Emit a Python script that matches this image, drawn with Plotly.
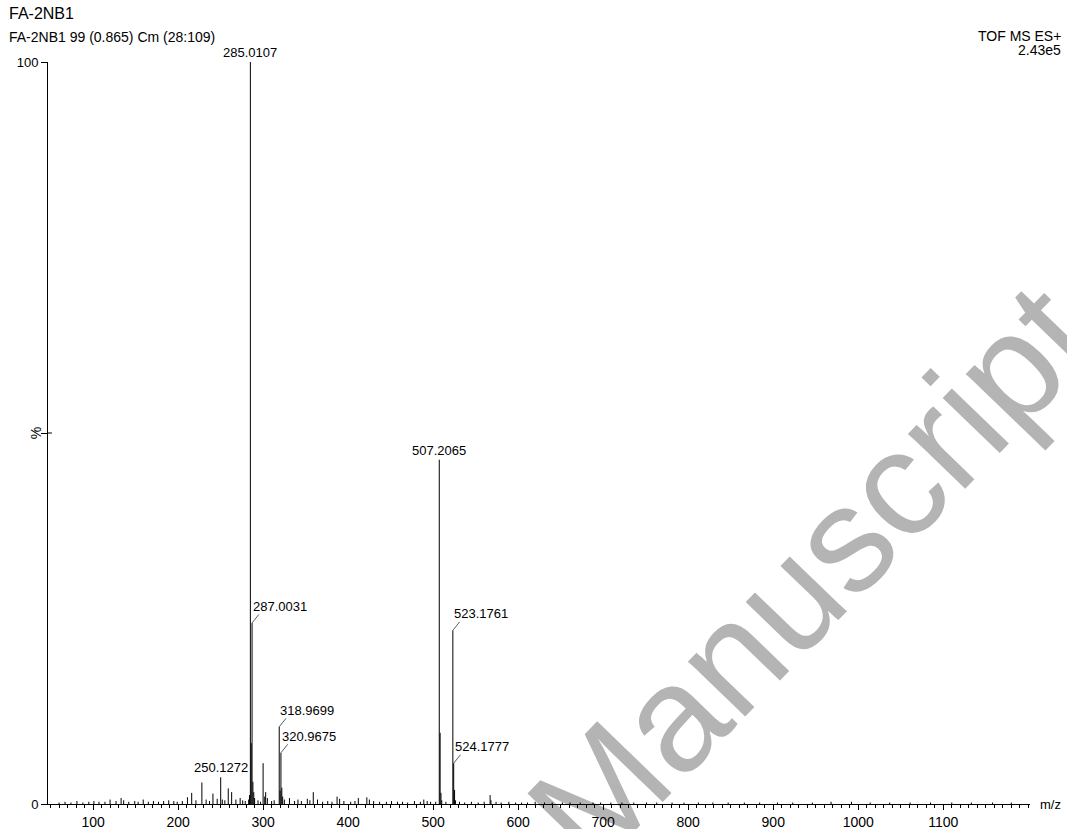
import plotly.graph_objects as go

# Labelled peaks (m/z, relative intensity %)
label_mz = [250.1272, 285.0107, 287.0031, 318.9699, 320.9675, 507.2065, 523.1761, 524.1777]
label_int = [3.6, 100.0, 24.4, 10.4, 6.9, 46.4, 23.4, 5.5]
# True where the label sits beside the peak with a short leader line
label_side = [False, False, True, True, True, False, True, True]

# Unlabelled peaks (isotopes, fragments, background)
other_mz = [283.0, 284.0, 286.0, 288.0, 289.0, 290.0,
            300.0, 301.9, 303.0, 305.0,
            319.97, 322.0, 323.0, 325.0,
            508.2, 509.2, 510.1, 525.2, 526.2, 567.0, 568.0,
            216, 228, 241, 246, 259, 263, 268, 273,
            331, 352, 359, 364, 387, 390, 412, 422, 425,
            60, 67, 74, 81, 88, 95, 101, 107, 114, 120, 127, 133, 136, 142, 149, 153,
            159, 165, 171, 177, 183, 189, 195, 199, 205, 211, 221, 233, 237, 252, 255,
            276, 279, 294, 297, 310, 313, 337, 341, 345, 355, 370, 376, 381, 395, 403,
            408, 430, 437, 445, 451, 458, 464, 470, 478, 485, 489, 493, 497, 503, 515,
            531, 537, 545, 553, 560, 574, 580, 589, 597, 604, 611, 620, 631, 640, 652,
            661, 673, 688, 697, 709, 722, 736, 751, 763, 781, 795, 812, 829, 847, 866,
            884, 905, 923, 946, 968, 992, 1014, 1037, 1061, 1085, 1110, 1133, 1158, 1180]
other_int = [0.6, 1.2, 8.2, 3.0, 1.6, 0.8,
             5.5, 1.0, 1.6, 0.8,
             1.8, 2.2, 1.0, 0.6,
             9.6, 1.5, 0.5, 1.9, 0.5, 1.2, 0.5,
             1.5, 2.9, 1.4, 0.7, 2.1, 1.6, 0.6, 0.8,
             0.8, 0.7, 1.6, 0.6, 1.0, 0.7, 0.8, 0.9, 0.6,
             0.2, 0.3, 0.2, 0.4, 0.2, 0.3, 0.4, 0.3, 0.3, 0.6, 0.4, 0.8, 0.5, 0.3, 0.4, 0.3,
             0.6, 0.3, 0.4, 0.3, 0.4, 0.5, 0.4, 0.3, 0.4, 0.9, 0.5, 0.6, 0.4, 0.6, 0.5,
             0.5, 0.4, 0.5, 0.3, 0.4, 0.5, 0.4, 0.6, 0.4, 0.5, 0.3, 0.4, 0.3, 0.4, 0.3,
             0.4, 0.4, 0.3, 0.3, 0.4, 0.3, 0.3, 0.2, 0.4, 0.3, 0.6, 0.4, 0.3, 0.3, 0.3,
             0.3, 0.2, 0.3, 0.2, 0.3, 0.3, 0.2, 0.3, 0.2, 0.2, 0.2, 0.3, 0.2, 0.2, 0.2,
             0.2, 0.2, 0.2, 0.2, 0.2, 0.2, 0.2, 0.2, 0.2, 0.2, 0.2, 0.2, 0.2, 0.2, 0.2,
             0.2, 0.2, 0.2, 0.2, 0.3, 0.3, 0.2, 0.2, 0.2, 0.2, 0.2, 0.2, 0.2, 0.2]

x_range = [47, 1202]
x_ticks = [100, 200, 300, 400, 500, 600, 700, 800, 900, 1000, 1100]
y_ticks = [0, 50, 100]
y_ticktext = ["0", "", "100"]

FONT = "Liberation Sans, Arial, sans-serif"
PLOT_W, PLOT_H = 982, 742


def sticks(mz, inten):
    xs, ys = [], []
    for m, h in zip(mz, inten):
        xs += [m, m, None]
        ys += [0, h, None]
    return xs, ys


fig = go.Figure()

# journal watermark, drawn first so the spectrum and axes sit on top of it
fig.add_trace(go.Bar(x=[944], y=[1], base=[30.5], width=[1],
                     marker=dict(color="rgba(0,0,0,0)", line=dict(width=0)),
                     text=["Manuscript"], textposition="inside",
                     insidetextanchor="middle", constraintext="none",
                     textangle=-46, cliponaxis=False,
                     textfont=dict(family=FONT, size=150, color="#b4b4b4"),
                     hoverinfo="skip", showlegend=False))

sx, sy = sticks(other_mz + label_mz, other_int + label_int)
fig.add_trace(go.Scatter(x=sx, y=sy, mode="lines",
                         line=dict(color="black", width=1),
                         hoverinfo="skip", showlegend=False))

# peak labels
for m, h, side in zip(label_mz, label_int, label_side):
    txt = f"{m:.4f}"
    if not side:
        fig.add_annotation(x=m, y=h, text=txt, showarrow=False,
                           xanchor="center", yanchor="bottom", yshift=0,
                           font=dict(family=FONT, size=13, color="black"))
    else:
        # short slanted leader from the peak top up to the label
        fig.add_annotation(x=m, y=h, text="", showarrow=True,
                           ax=8, ay=-10, axref="pixel", ayref="pixel",
                           arrowhead=0, arrowwidth=0.8, arrowcolor="#333",
                           standoff=0, startstandoff=0)
        fig.add_annotation(x=m, y=h, text=txt, showarrow=False,
                           xanchor="left", yanchor="bottom", xshift=-1, yshift=7,
                           font=dict(family=FONT, size=13, color="black"))

# header texts
fig.add_annotation(xref="paper", yref="paper", x=-48 / PLOT_W, y=1 + 48 / PLOT_H,
                   text="FA-2NB1", showarrow=False, xanchor="left", yanchor="middle",
                   xshift=7, font=dict(family=FONT, size=16, color="black"))
fig.add_annotation(xref="paper", yref="paper", x=-48 / PLOT_W, y=1 + 25 / PLOT_H,
                   text="FA-2NB1 99 (0.865) Cm (28:109)", showarrow=False,
                   xanchor="left", yanchor="middle", xshift=7,
                   font=dict(family=FONT, size=14, color="black"))
fig.add_annotation(xref="paper", yref="paper", x=1 + 33 / PLOT_W, y=1 + 26 / PLOT_H,
                   text="TOF MS ES+", showarrow=False, xanchor="right", yanchor="middle",
                   font=dict(family=FONT, size=14, color="black"))
fig.add_annotation(xref="paper", yref="paper", x=1 + 33 / PLOT_W, y=1 + 12 / PLOT_H,
                   text="2.43e5", showarrow=False, xanchor="right", yanchor="middle",
                   font=dict(family=FONT, size=14, color="black"))
fig.add_annotation(xref="paper", yref="paper", x=1.008, y=0,
                   text="m/z", showarrow=False, xanchor="left", yanchor="middle",
                   font=dict(family=FONT, size=13, color="black"))
fig.add_annotation(xref="paper", yref="y", x=-0.012, y=50,
                   text="%", showarrow=False, textangle=-90,
                   xanchor="center", yanchor="middle",
                   font=dict(family=FONT, size=14, color="black"))
# inward tick at 50 %
fig.add_shape(type="line", xref="paper", yref="y", x0=0, x1=0.004, y0=50, y1=50,
              line=dict(color="black", width=1))

fig.update_layout(
    width=1067, height=829,
    margin=dict(l=48, r=37, t=62, b=25),
    paper_bgcolor="white", plot_bgcolor="white",
    font=dict(family=FONT, size=13, color="black"),
    xaxis=dict(range=x_range, tickvals=x_ticks, showgrid=False, zeroline=False,
               showline=True, linecolor="black", linewidth=1, automargin=False,
               ticks="outside", ticklen=5, tickcolor="black",
               tickfont=dict(size=14),
               minor=dict(dtick=10, tick0=0, ticks="outside", ticklen=3,
                          tickcolor="black", showgrid=False)),
    yaxis=dict(range=[0, 100], tickvals=y_ticks, ticktext=y_ticktext,
               showgrid=False, zeroline=False, showline=True, automargin=False,
               linecolor="black", linewidth=1, ticks="outside", ticklen=6,
               tickcolor="black", tickfont=dict(size=13)),
)

fig.write_html("out.html")
